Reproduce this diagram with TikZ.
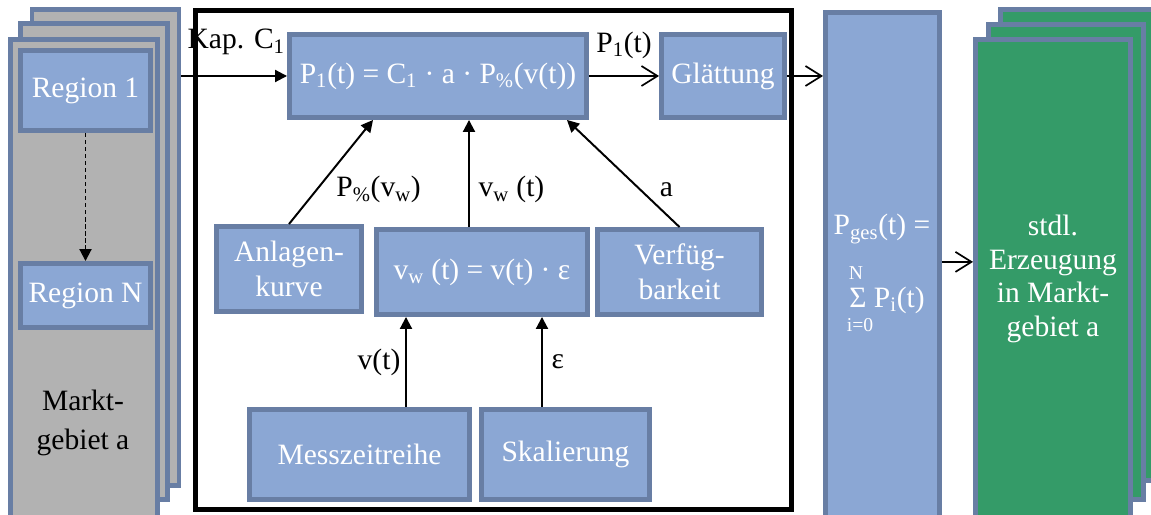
\documentclass[tikz,border=0pt]{standalone}
\usepackage{fontspec}
\setmainfont{Liberation Serif}
\usetikzlibrary{arrows.meta,positioning,calc}
\definecolor{boxFill}{HTML}{8BA7D4}
\definecolor{boxLine}{HTML}{687EA4}
\definecolor{sheetGray}{HTML}{B2B2B2}
\definecolor{sheetGreen}{HTML}{349B68}

\begin{document}
\begin{tikzpicture}[font=\fontsize{21}{25}\selectfont,
  blk/.style={draw=boxLine, line width=3.5pt, fill=boxFill, text=white, align=center, inner sep=2pt},
  sheet/.style={draw=boxLine, line width=3.5pt, minimum width=3.675cm},
  tri/.style={line width=1.4pt, -{Triangle[length=0.3cm,width=0.3cm]}},
  barb/.style={line width=1.2pt, -{Straight Barb[length=0.4cm,width=0.5cm]}},
  small/.style={font=\fontsize{14}{16}\selectfont, text=white, inner sep=0pt}]
\useasboundingbox (0,0) rectangle (28.775,12.875);
% Marktgebiet links
\node[sheet, fill=sheetGray, minimum height=11.9cm] (g3) at (2.6375,6.6875) {};
\node[sheet, fill=sheetGray, minimum height=11.9cm] (g2) at (2.35,6.3375) {};
\node[sheet, fill=sheetGray, minimum height=12.075cm] (g1) at (2.1,5.85) {};
\node[blk, minimum width=3.25cm, minimum height=2cm] (r1) at (2.1375,10.6125) {Region 1};
\node[blk, minimum width=3.25cm, minimum height=1.6cm] (rN) at (2.1375,5.4875) {Region N};
\node[align=center, font=\fontsize{21}{28}\selectfont] (mgeb) at (2.075,2.3) {Markt-\\gebiet a};
\draw[tri, dash pattern=on 3pt off 2pt] (r1) -- (rN);
% Rahmen
\node[draw, line width=3.6pt, minimum width=14.9cm, minimum height=12.475cm] (frame) at (12.3375,6.375) {};
\node[blk, minimum width=7.425cm, minimum height=2.075cm] (pone) at (10.95,10.975) {P\textsubscript{1}(t) = C\textsubscript{1} · a · P\textsubscript{\%}(v(t))};
\node[blk, minimum width=3.075cm, minimum height=2.075cm] (glatt) at (18.075,10.975) {Glättung};
\node[blk, minimum width=3.625cm, minimum height=2.125cm] (kurve) at (7.225,6.15) {Anlagen-\\kurve};
\node[blk, minimum width=5.275cm, minimum height=2.125cm] (vw) at (12.05,6.075) {v\textsubscript{w} (t) = v(t) · ε};
\node[blk, minimum width=4.1cm, minimum height=2.125cm] (verf) at (16.9875,6.075) {Verfüg-\\barkeit};
\node[blk, minimum width=5.5cm, minimum height=2.25cm] (mess) at (8.9875,1.5125) {Messzeitreihe};
\node[blk, minimum width=4.2cm, minimum height=2.25cm] (skal) at (14.1375,1.5125) {Skalierung};
% Summe
\node[blk, minimum width=2.85cm, minimum height=12.75cm] (pges) at (22.0625,6.1875) {};
\node[text=white] (pgestxt) at (22.05,7.15) {P\textsubscript{ges}(t) =};
\node[text=white] (sum) at (22.175,5.375) {Σ P\textsubscript{i}(t)};
\node[small] (sumtop) at (21.4,6.05) {N};
\node[small] (sumbot) at (21.5,4.75) {i=0};
% Erzeugung rechts
\node[sheet, fill=sheetGreen, minimum width=3.875cm, minimum height=11.775cm] (e3) at (26.95,6.75) {};
\node[sheet, fill=sheetGreen, minimum width=3.875cm, minimum height=11.875cm] (e2) at (26.65,6.325) {};
\node[sheet, fill=sheetGreen, minimum width=3.875cm, minimum height=12.075cm] (e1) at (26.325,5.85) {};
\node[text=white, align=center, font=\fontsize{21}{24}\selectfont] (etxt) at (26.325,5.9) {stdl.\\Erzeugung\\in Markt-\\gebiet a};
% Verbindungen
\draw[tri] (g3.east |- pone) -- (pone.west);
\node[anchor=east, inner sep=0pt] (kap) at ($(pone.north west)+(-0.05,-0.25)$) {Kap. C\textsubscript{1}};
\draw[barb] (pone) -- (glatt) node[midway, above=0.3cm] (pout) {P\textsubscript{1}(t)};
\draw[barb] (glatt) -- (glatt -| pges.west);
\coordinate (sumout) at ([yshift=0.14cm]pges.east);
\draw[barb] (sumout) -- (sumout -| e1.west);
\draw[tri] (kurve.north) -- ([xshift=-1.625cm]pone.south) node[pos=0.33, right=0.35cm] {P\textsubscript{\%}(v\textsubscript{w})};
\coordinate (vwin) at ([xshift=0.775cm]pone.south);
\draw[tri] (vwin |- vw.north) -- (vwin) node[pos=0.35, right=0.1cm] {v\textsubscript{w} (t)};
\draw[tri] (verf.north) -- ([xshift=3.225cm]pone.south) node[pos=0.35, right=0.35cm] {a};
\coordinate (vin) at ([xshift=1.1625cm]mess.north);
\draw[tri] (vin) -- (vin |- vw.south) node[midway, left] {v(t)};
\coordinate (epsin) at ([xshift=-0.5875cm]skal.north);
\draw[tri] (epsin) -- (epsin |- vw.south) node[midway, right=0.1cm] {ε};
\end{tikzpicture}
\end{document}
